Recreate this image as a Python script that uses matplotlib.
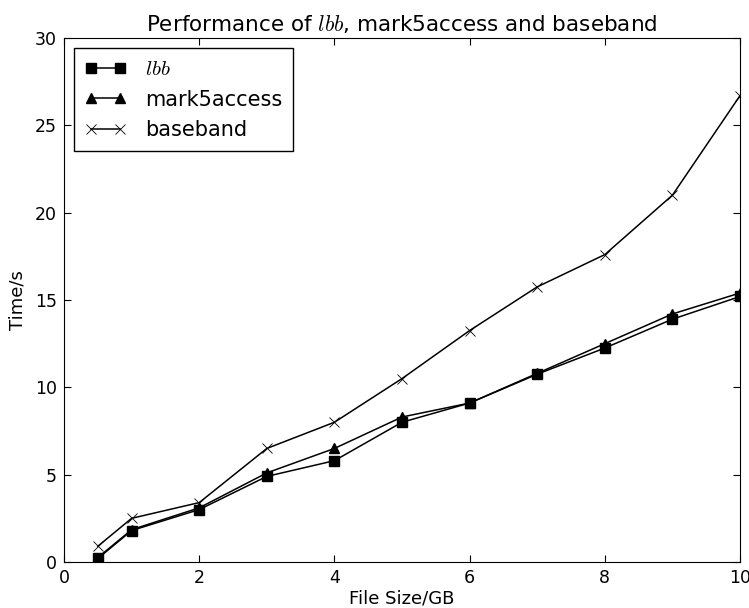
import matplotlib
matplotlib.use("Agg")
import matplotlib.pyplot as plt

plt.rcParams['mathtext.fontset'] = 'cm'
plt.rcParams['font.family'] = ['DejaVu Sans']

size_gb = [0.5, 1, 2, 3, 4, 5, 6, 7, 8, 9, 10]
t_lbb = [0.2, 1.8, 3.0, 4.9, 5.8, 8.0, 9.1, 10.75, 12.25, 13.9, 15.2]
t_mark5 = [0.25, 1.85, 3.1, 5.1, 6.5, 8.3, 9.1, 10.8, 12.5, 14.2, 15.4]
t_baseband = [0.9, 2.5, 3.4, 6.5, 8.0, 10.5, 13.25, 15.75, 17.6, 21.0, 26.7]

fig = plt.figure(figsize=(7.49, 6.08), dpi=100)
ax = fig.add_axes([0.0855, 0.0757, 0.9025, 0.8618])

ax.plot(size_gb, t_lbb, color='k', marker='s', markersize=7, linewidth=1.1, label='$lbb$')
ax.plot(size_gb, t_mark5, color='k', marker='^', markersize=7, linewidth=1.1, label='mark5access')
ax.plot(size_gb, t_baseband, color='k', marker='x', markersize=7, linewidth=1.1,
        markeredgewidth=0.6, label='baseband')

ax.set_xlim(0, 10)
ax.set_ylim(0, 30)
ax.set_xticks([0, 2, 4, 6, 8, 10])
ax.set_yticks([0, 5, 10, 15, 20, 25, 30])
ax.tick_params(direction='in', top=True, right=True, labelsize=12.5, length=5, pad=5)
ax.set_xlabel('File Size/GB', fontsize=13, labelpad=2)
ax.set_ylabel('Time/s', fontsize=13, labelpad=6)
ax.set_title('Performance of $lbb$, mark5access and baseband', fontsize=15.5, pad=5)

leg = ax.legend(loc='upper left', numpoints=2, fancybox=False, fontsize=15,
                edgecolor='k', framealpha=1, handlelength=2.0, handletextpad=0.9,
                borderpad=0.5, labelspacing=0.52, borderaxespad=0.5)
leg.get_frame().set_linewidth(1.0)

fig.savefig('out.png', dpi=100)
